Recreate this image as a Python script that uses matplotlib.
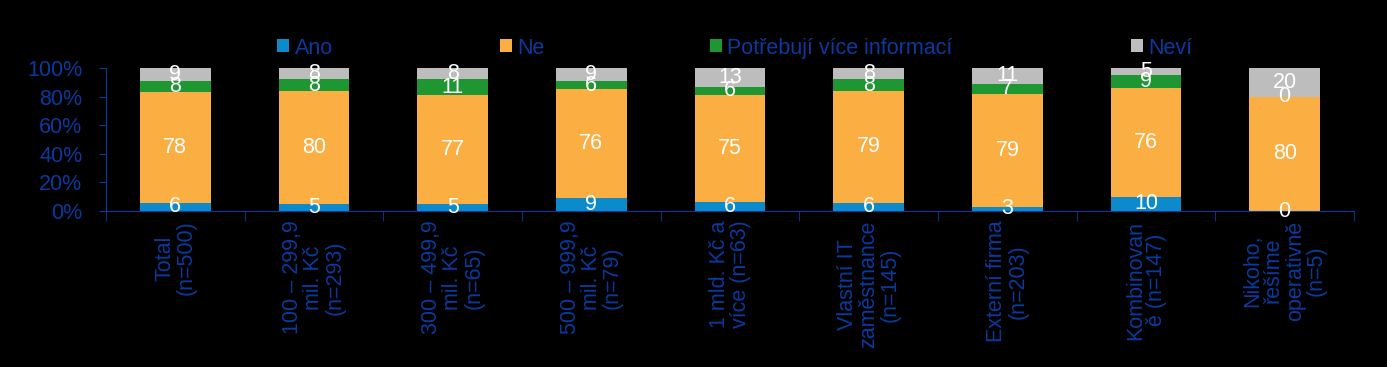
import numpy as np
import matplotlib.pyplot as plt
from matplotlib.ticker import PercentFormatter

plt.rcParams['font.family'] = ['Liberation Sans', 'DejaVu Sans']

categories = ['Total\n(n=500)', '100 – 299,9\nmil. Kč\n(n=293)', '300 – 499,9\nmil. Kč\n(n=65)',
              '500 – 999,9\nmil. Kč\n(n=79)', '1 mld. Kč a\nvíce (n=63)', 'Vlastní IT\nzaměstnance\n(n=145)',
              'Externí firma\n(n=203)', 'Kombinovan\ně (n=147)', 'Nikoho,\nřešíme\noperativně\n(n=5)']
ano = [6, 5, 5, 9, 6, 6, 3, 10, 0]
ne = [78, 80, 77, 76, 75, 79, 79, 76, 80]
info = [8, 8, 11, 6, 6, 8, 7, 9, 0]
nevi = [9, 8, 8, 9, 13, 8, 11, 5, 20]
series = ['Ano', 'Ne', 'Potřebují více informací', 'Neví']
colors = ['#0b8bcb', '#fbae42', '#1e9632', '#bdbdbd']

blue = '#0a3a9e'
fs = 15.5

data = np.array([ano, ne, info, nevi], dtype=float)
shares = data / data.sum(axis=0)

fig = plt.figure(figsize=(13.87, 3.67), dpi=100, facecolor='black')
ax = fig.add_axes([0.0764, 0.425, 0.8998, 0.3896], facecolor='black')

x = np.arange(len(categories))
bottom = np.zeros(len(categories))
handles = []
for vals, raw, name, c in zip(shares, data, series, colors):
    bars = ax.bar(x, vals, 0.51, bottom=bottom, color=c, label=name)
    ax.bar_label(bars, labels=[str(int(v)) for v in raw], label_type='center',
                 color='white', fontsize=fs)
    bottom += vals
    handles.append(bars)

ax.set_xlim(-0.5, len(categories) - 0.5)
ax.set_ylim(0, 1)
ax.yaxis.set_major_formatter(PercentFormatter(1.0, decimals=0))
ax.set_yticks(np.linspace(0, 1, 6))
ax.set_xticks(x)
ax.set_xticklabels(categories, rotation=90, linespacing=1.0)
ax.set_xticks(np.arange(len(categories) + 1) - 0.5, minor=True)

for s in ['top', 'right']:
    ax.spines[s].set_visible(False)
for s in ['left', 'bottom']:
    ax.spines[s].set_color(blue)
ax.tick_params(axis='x', which='major', length=0, pad=7, labelsize=fs, labelcolor=blue)
ax.tick_params(axis='x', which='minor', length=7, color=blue, direction='out')
ax.tick_params(axis='y', length=5, color=blue, labelsize=fs, labelcolor=blue, pad=12)

# separate legends to keep the uneven spacing
lx = [0.2, 0.3605, 0.512, 0.8155]
for h, name, px in zip(handles, series, lx):
    fig.legend([h], [name], loc='center left', bbox_to_anchor=(px, 0.869), frameon=False,
               fontsize=fs, labelcolor=blue, borderpad=0, borderaxespad=0,
               handlelength=0.55, handleheight=0.55, handletextpad=0.25)

fig.savefig('out.png', facecolor='black')
